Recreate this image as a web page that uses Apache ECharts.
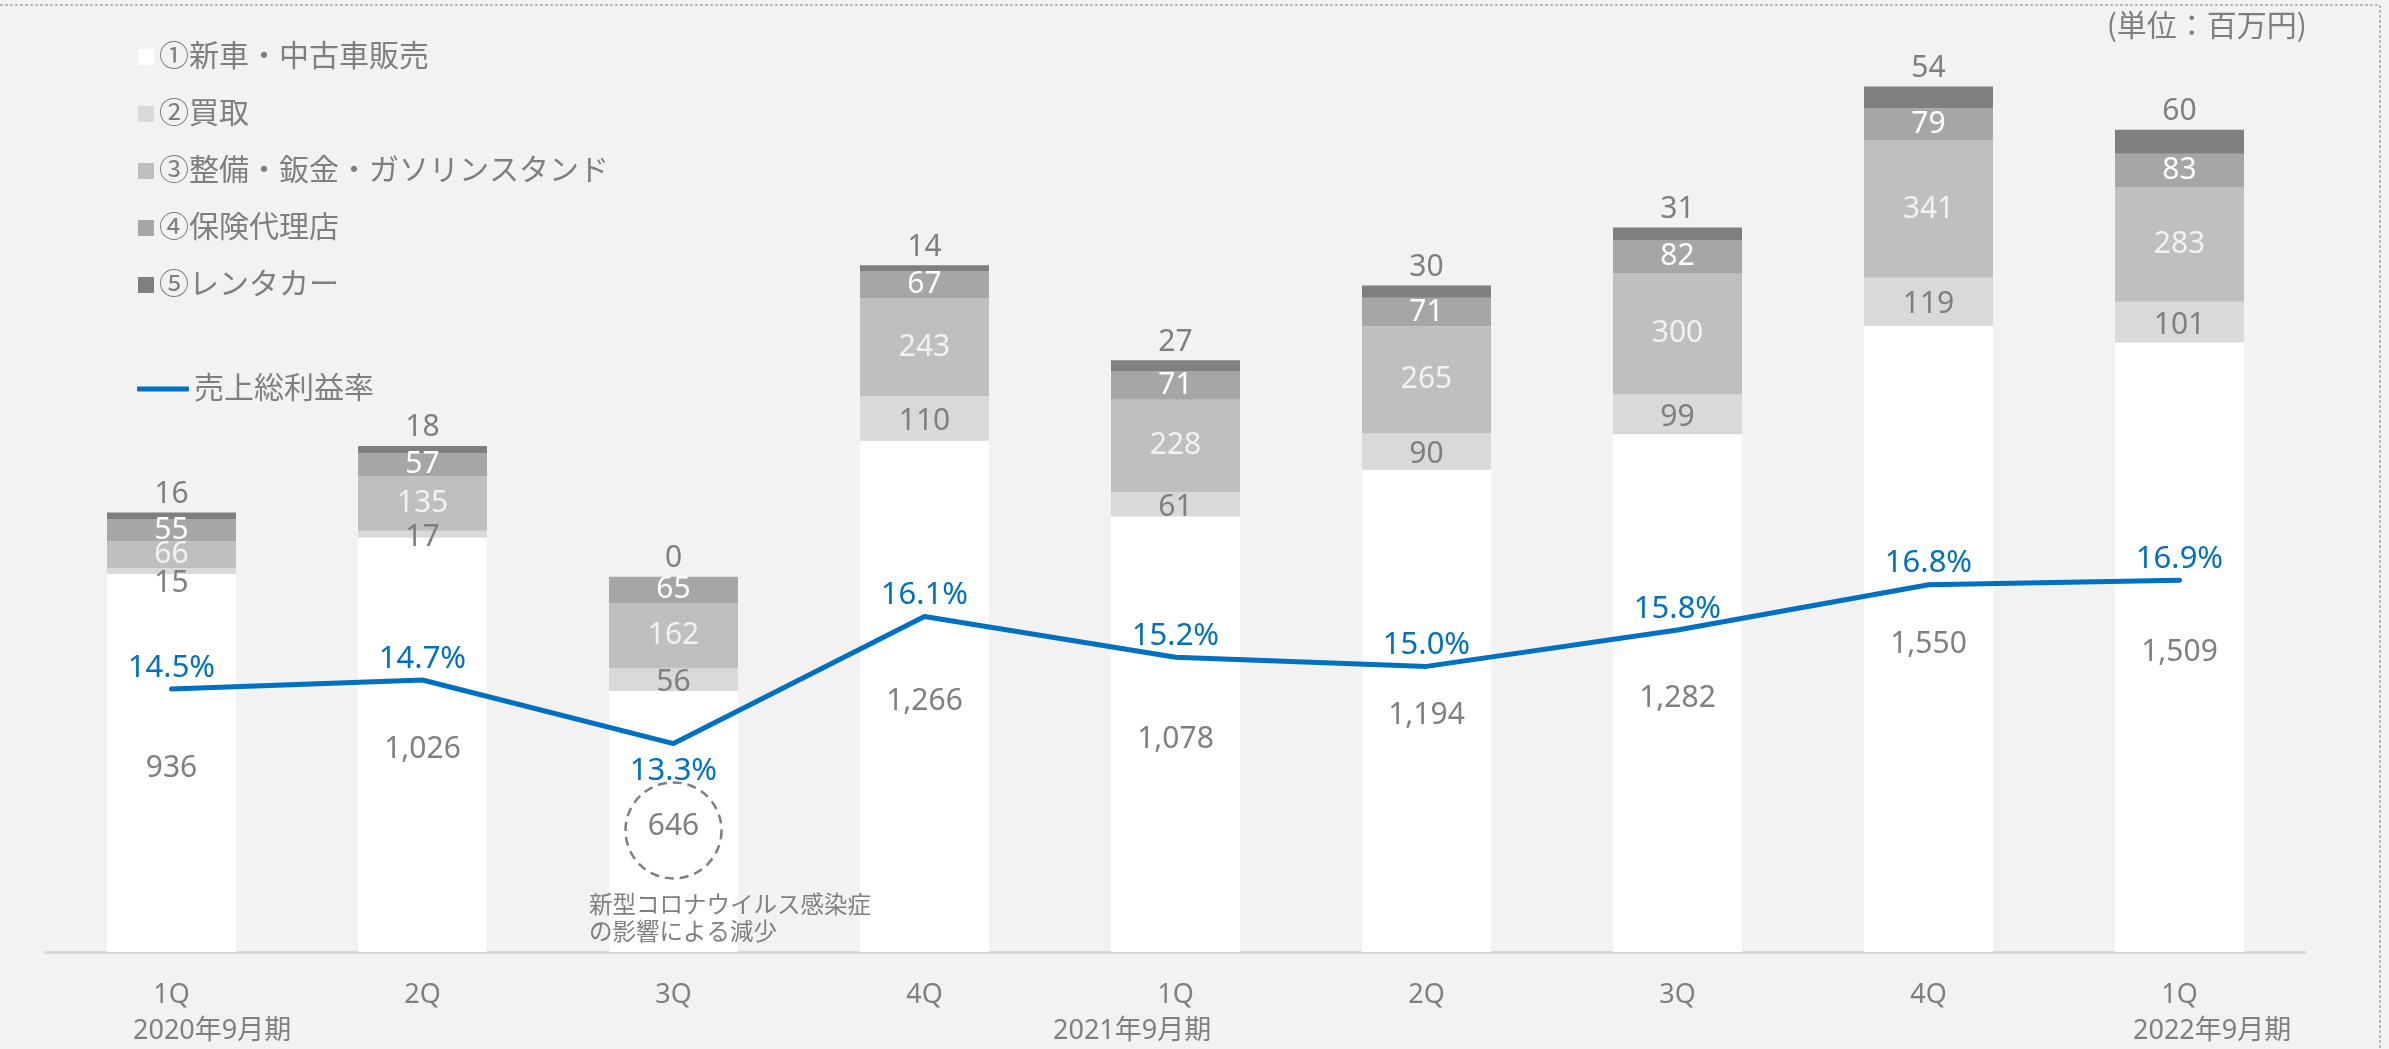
<!DOCTYPE html>
<html>
<head>
<meta charset="utf-8">
<script src="https://cdn.jsdelivr.net/npm/echarts@6/dist/echarts.min.js"></script>
<style>
    html, body { margin: 0; padding: 0; background: #f2f2f2; }
    #main { width: 2389px; height: 1049px; }
</style>
</head>
<body>
<div id="main"></div>
<script>
// quarters on the x axis
var quarters = ['1Q', '2Q', '3Q', '4Q', '1Q', '2Q', '3Q', '4Q', '1Q'];
// fiscal year labels under the axis
var yearLabels = ['2020年9月期', '2021年9月期', '2022年9月期'];

// segments (百万円)
var newUsed   = [936, 1026, 646, 1266, 1078, 1194, 1282, 1550, 1509];
var buyback   = [15, 17, 56, 110, 61, 90, 99, 119, 101];
var maint     = [66, 135, 162, 243, 228, 265, 300, 341, 283];
var insurance = [55, 57, 65, 67, 71, 71, 82, 79, 83];
var rental    = [16, 18, 0, 14, 27, 30, 31, 54, 60];
// 売上総利益率 (%)
var margin    = [14.5, 14.7, 13.3, 16.1, 15.2, 15.0, 15.8, 16.8, 16.9];

var seriesNames = ['①新車・中古車販売', '②買取', '③整備・鈑金・ガソリンスタンド', '④保険代理店', '⑤レンタカー'];
var lineName = '売上総利益率';
var noteIndex = 2; // コロナ影響の注記を付ける四半期

var FONT = "'Noto Sans', 'Noto Sans CJK JP', sans-serif";
var GRAY = '#7f7f7f';

var chart;
window.onload = function () {
    chart = echarts.init(document.getElementById('main'));

    function fmt(p) {
        return p.value.toLocaleString('en-US');
    }

    var barLabel = function (color) {
        return {
            show: true,
            position: 'inside',
            color: color,
            fontSize: 30,
            fontFamily: FONT,
            formatter: fmt
        };
    };

    var option = {
        backgroundColor: '#f2f2f2',
        animation: false,
        textStyle: { fontFamily: FONT },
        legend: [
            {
                data: seriesNames,
                orient: 'vertical',
                left: 133,
                top: 37,
                itemWidth: 16,
                itemHeight: 16,
                itemGap: 27,
                icon: 'rect',
                textStyle: { color: GRAY, fontSize: 30, fontFamily: FONT }
            },
            {
                data: [lineName],
                left: 132,
                top: 369,
                itemWidth: 52,
                itemHeight: 5,
                icon: 'roundRect',
                textStyle: { color: GRAY, fontSize: 30, fontFamily: FONT }
            }
        ],
        grid: {
            left: 46,
            right: 84,
            top: 23,
            bottom: 97
        },
        xAxis: {
            type: 'category',
            data: quarters,
            axisLine: { lineStyle: { color: '#d9d9d9', width: 3 } },
            axisTick: { show: false },
            axisLabel: { color: GRAY, fontSize: 27, margin: 30, fontFamily: FONT }
        },
        yAxis: [
            { type: 'value', min: 0, max: 2300, show: false, splitLine: { show: false } },
            { type: 'value', min: 8.71, max: 29.17, show: false, splitLine: { show: false } }
        ],
        series: [
            {
                name: seriesNames[0],
                type: 'bar',
                stack: 'sales',
                barWidth: 129,
                data: newUsed,
                itemStyle: { color: '#ffffff' },
                label: Object.assign(barLabel(GRAY), { offset: [0, 5] }),
                markPoint: {
                    symbol: 'circle',
                    symbolSize: 96,
                    itemStyle: {
                        color: 'rgba(0,0,0,0)',
                        borderColor: GRAY,
                        borderWidth: 2.5,
                        borderType: [9, 6]
                    },
                    label: { show: false },
                    data: [{ coord: [noteIndex, newUsed[noteIndex] / 2 - 22] }]
                }
            },
            {
                name: seriesNames[1],
                type: 'bar',
                stack: 'sales',
                data: buyback.map(function (v, i) {
                    // 小さい区分はラベルを少し下げる
                    return {
                        value: v,
                        label: { offset: [0, maint[i] < 100 ? 13 : 3] }
                    };
                }),
                itemStyle: { color: '#d9d9d9' },
                label: barLabel(GRAY)
            },
            {
                name: seriesNames[2],
                type: 'bar',
                stack: 'sales',
                data: maint,
                itemStyle: { color: '#bfbfbf' },
                label: barLabel('#f2f2f2')
            },
            {
                name: seriesNames[3],
                type: 'bar',
                stack: 'sales',
                data: insurance,
                itemStyle: { color: '#a6a6a6' },
                label: barLabel('#ffffff')
            },
            {
                name: seriesNames[4],
                type: 'bar',
                stack: 'sales',
                data: rental,
                itemStyle: { color: '#7f7f7f' },
                label: {
                    show: true,
                    position: 'top',
                    distance: 3,
                    color: GRAY,
                    fontSize: 30,
                    fontFamily: FONT
                }
            },
            {
                name: lineName,
                type: 'line',
                yAxisIndex: 1,
                data: margin.map(function (v, i) {
                    // 大きく落ち込んだ点だけラベルを下に
                    var low = i > 0 && i < margin.length - 1 &&
                        margin[i - 1] - v > 0.5 && margin[i + 1] - v > 0.5;
                    return {
                        value: v,
                        label: low ? { position: 'bottom', distance: 12 } : {}
                    };
                }),
                symbol: 'circle',
                symbolSize: 1,
                itemStyle: { color: '#0070c0' },
                lineStyle: { color: '#0070c0', width: 5, cap: 'round' },
                label: {
                    show: true,
                    position: 'top',
                    distance: 5,
                    color: '#0070c0',
                    fontSize: 31,
                    fontFamily: FONT,
                    formatter: function (p) { return p.value.toFixed(1) + '%'; }
                },
                z: 5
            }
        ],
        graphic: [
            {
                type: 'polyline',
                silent: true,
                z: 100,
                shape: { points: [[0, 5], [2380, 5], [2380, 1049]] },
                style: { stroke: '#808080', lineWidth: 1, lineDash: [3, 2], fill: null }
            },
            {
                type: 'text',
                z: 100,
                right: 82,
                top: 10,
                style: { text: '(単位：百万円)', fill: GRAY, font: "30px 'Noto Sans CJK JP'" }
            },
            {
                type: 'text',
                z: 100,
                left: 589,
                top: 891,
                style: {
                    text: '新型コロナウイルス感染症\nの影響による減少',
                    fill: GRAY,
                    font: "23.5px 'Noto Sans CJK JP'",
                    lineHeight: 27
                }
            },
            {
                type: 'text', z: 100, left: 133, top: 1018,
                style: { text: yearLabels[0], fill: GRAY, font: '27px ' + FONT }
            },
            {
                type: 'text', z: 100, left: 1053, top: 1018,
                style: { text: yearLabels[1], fill: GRAY, font: '27px ' + FONT }
            },
            {
                type: 'text', z: 100, left: 2133, top: 1018,
                style: { text: yearLabels[2], fill: GRAY, font: '27px ' + FONT }
            }
        ]
    };

    chart.setOption(option);
};
</script>
</body>
</html>
